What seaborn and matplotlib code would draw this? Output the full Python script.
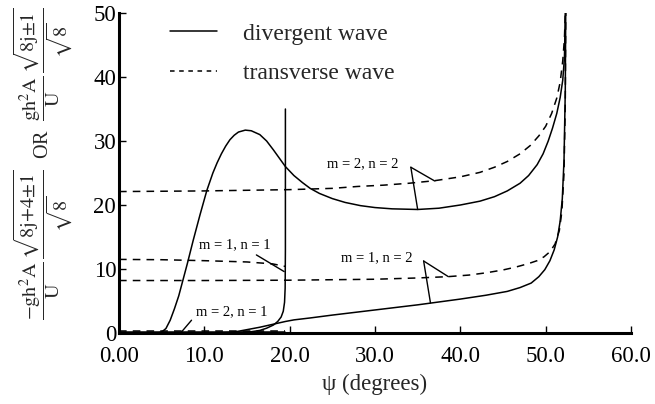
import matplotlib
matplotlib.use("Agg")
import matplotlib.pyplot as plt
from matplotlib.lines import Line2D
import seaborn as sns
import pandas as pd

# Wave-height coefficient versus psi (degrees)

# divergent wave (solid curves)
div_m2n2_x = [0, 4.5, 5.0, 5.5, 6.0, 6.5, 7.0, 7.5, 8.0, 8.7, 9.5, 10.3, 11.0, 11.5, 12.0, 12.5,
              13.0, 13.5, 14.0, 14.8, 15.5, 16.5, 17.3, 18.1, 18.8, 19.5, 20.5, 21.5, 22.4, 23.5,
              25.0, 26.5, 28.3, 30.0, 32.0, 35.0, 37.5, 40.0, 42.3, 44.0, 45.5, 47.0, 48.0, 49.0,
              49.7, 50.3, 50.8, 51.3, 51.7, 52.0, 52.2, 52.3]
div_m2n2_y = [0, 0, 0.15, 0.7, 2.0, 3.8, 5.8, 8.3, 10.8, 14.5, 18.5, 22.3, 25.0, 26.6, 28.0, 29.2,
              30.2, 30.9, 31.4, 31.7, 31.6, 31.0, 30.0, 28.6, 27.3, 26.0, 24.6, 23.5, 22.6, 21.8,
              21.0, 20.4, 19.9, 19.6, 19.4, 19.3, 19.5, 20.0, 20.6, 21.3, 22.2, 23.4, 24.6, 26.3,
              28.0, 30.0, 32.0, 34.3, 36.8, 39.5, 43.0, 50.0]

div_m1n2_x = [0, 12.0, 13.5, 14.5, 15.5, 16.5, 17.5, 18.5, 19.5, 20.5, 22.4, 25.0, 30.0, 35.0,
              40.0, 43.0, 45.5, 47.0, 48.3, 49.2, 49.9, 50.5, 51.0, 51.4, 51.7, 51.95, 52.15,
              52.3, 52.35]
div_m1n2_y = [0, 0, 0.15, 0.4, 0.65, 0.9, 1.2, 1.5, 1.8, 2.05, 2.35, 2.8, 3.6, 4.4,
              5.3, 5.9, 6.5, 7.1, 7.8, 8.8, 9.9, 11.3, 13.0, 15.0, 17.5, 21.0, 27.0,
              38.0, 50.0]

div_m1n1_x = [0, 12.0, 14.5, 15.5, 16.5, 17.3, 18.1, 18.6, 19.0, 19.25, 19.4, 19.47, 19.5, 19.5]
div_m1n1_y = [0, 0, 0.1, 0.2, 0.4, 0.75, 1.25, 1.8, 2.5, 3.4, 4.8, 7.0, 13.0, 35.0]

div_m2n1_x = [0, 10.0, 19.5]
div_m2n1_y = [0.15, 0.15, 0.15]

# transverse wave (dashed curves)
trn_m2n2_x = [0, 10.0, 20.0, 25.0, 28.0, 31.0, 34.0, 37.0, 40.0, 42.3, 44.0, 45.5, 47.0, 48.2,
              49.2, 50.0, 50.7, 51.3, 51.7, 52.0, 52.2, 52.3]
trn_m2n2_y = [22.1, 22.2, 22.4, 22.6, 22.9, 23.1, 23.4, 23.8, 24.4, 25.1, 25.9, 26.8, 28.0, 29.3,
              30.8, 32.3, 34.3, 36.7, 39.2, 42.5, 46.0, 50.0]

trn_m1n1_x = [0, 5.0, 10.0, 15.0, 18.0, 19.5]
trn_m1n1_y = [11.5, 11.45, 11.3, 11.1, 10.8, 10.4]

trn_m1n2_x = [0, 10.0, 20.0, 30.0, 35.0, 38.5, 41.0, 43.0, 45.0, 46.5, 48.0, 49.0, 49.8, 50.5,
              51.1, 51.6, 51.9, 52.15, 52.3, 52.35]
trn_m1n2_y = [8.2, 8.2, 8.25, 8.4, 8.6, 8.8, 9.05, 9.4, 9.85, 10.3, 10.85, 11.3, 11.9, 12.7,
              13.9, 16.0, 19.0, 25.0, 36.0, 50.0]

trn_m2n1_x = [0, 10.0, 19.5]
trn_m2n1_y = [0.3, 0.3, 0.3]

x_ticks = [0, 10, 20, 30, 40, 50, 60]
x_tick_labels = ["0.00", "10.0", "20.0", "30.0", "40.0", "50.0", "60.0"]
y_ticks = [0, 10, 20, 30, 40, 50]

sns.set_theme(style="ticks")
plt.rcParams["font.family"] = ["Liberation Serif", "DejaVu Serif"]
plt.rcParams["mathtext.fontset"] = "stix"

fig = plt.figure(figsize=(6.55, 4.04), dpi=100)
ax = fig.add_axes([119 / 655, 71 / 404, 512 / 655, 320 / 404])

curves = [
    ("divergent", div_m2n2_x, div_m2n2_y),
    ("divergent", div_m1n2_x, div_m1n2_y),
    ("divergent", div_m1n1_x, div_m1n1_y),
    ("divergent", div_m2n1_x, div_m2n1_y),
    ("transverse", trn_m2n2_x, trn_m2n2_y),
    ("transverse", trn_m1n1_x, trn_m1n1_y),
    ("transverse", trn_m1n2_x, trn_m1n2_y),
    ("transverse", trn_m2n1_x, trn_m2n1_y),
]
for kind, xs, ys in curves:
    df = pd.DataFrame({"psi": xs, "coef": ys})
    style = "-" if kind == "divergent" else (0, (5, 4))
    sns.lineplot(data=df, x="psi", y="coef", ax=ax, color="black", lw=1.1,
                 estimator=None, sort=False, linestyle=style)

ax.set_xlim(0, 60)
ax.set_ylim(0, 50)
ax.set_xticks(x_ticks)
ax.set_xticklabels(x_tick_labels)
ax.set_yticks(y_ticks)
ax.tick_params(direction="in", length=5, width=1.0, labelsize=16.5, colors="black")
ax.tick_params(axis="x", pad=9)
ax.tick_params(axis="y", pad=2)
sns.despine(ax=ax)
for side in ("left", "bottom"):
    ax.spines[side].set_linewidth(2.2)
    ax.spines[side].set_color("black")

ax.set_xlabel("ψ (degrees)", fontsize=16.5, labelpad=5)
ax.set_ylabel(r"$\dfrac{\mathrm{-gh^2A}}{\mathrm{U}}\,\dfrac{\sqrt{\mathrm{8j{+}4{\pm}1}}}{\sqrt{\mathrm{8}}}$"
              "  OR  "
              r"$\dfrac{\mathrm{gh^2A}}{\mathrm{U}}\,\dfrac{\sqrt{\mathrm{8j{\pm}1}}}{\sqrt{\mathrm{8}}}$",
              fontsize=14.5)
ax.yaxis.set_label_coords(-0.086, 0.53)

# legend
handles = [Line2D([], [], color="black", lw=1.1),
           Line2D([], [], color="black", lw=1.1, linestyle=(0, (3, 3)))]
ax.legend(handles, ["divergent wave", "transverse wave"], loc="upper left",
          bbox_to_anchor=(170 / 655, 1 - 23 / 404), bbox_transform=fig.transFigure,
          frameon=False, fontsize=17, handlelength=2.0, handletextpad=1.1,
          labelspacing=0.78, borderpad=0, borderaxespad=0)

# curve labels with leader lines
label_style = dict(fontsize=10.5, color="black", ha="center", va="center")
ax.text(28.6, 26.4, "m = 2, n = 2", **label_style)
ax.text(30.2, 11.7, "m = 1, n = 2", **label_style)
ax.text(13.6, 13.75, "m = 1, n = 1", **label_style)
ax.text(13.2, 3.3, "m = 2, n = 1", **label_style)

leader = dict(arrowstyle="-", color="black", lw=1.0, shrinkA=0, shrinkB=0)
for vertex, ends in [((34.2, 25.9), [(37.0, 23.75), (35.0, 19.3)]),
                     ((35.7, 11.25), [(38.6, 8.8), (36.5, 4.7)]),
                     ((16.1, 12.2), [(19.35, 9.6)]),
                     ((8.5, 2.0), [(7.35, 0.2)])]:
    for end in ends:
        ax.annotate("", xy=end, xytext=vertex, arrowprops=leader)

fig.savefig("out.png", dpi=100)
